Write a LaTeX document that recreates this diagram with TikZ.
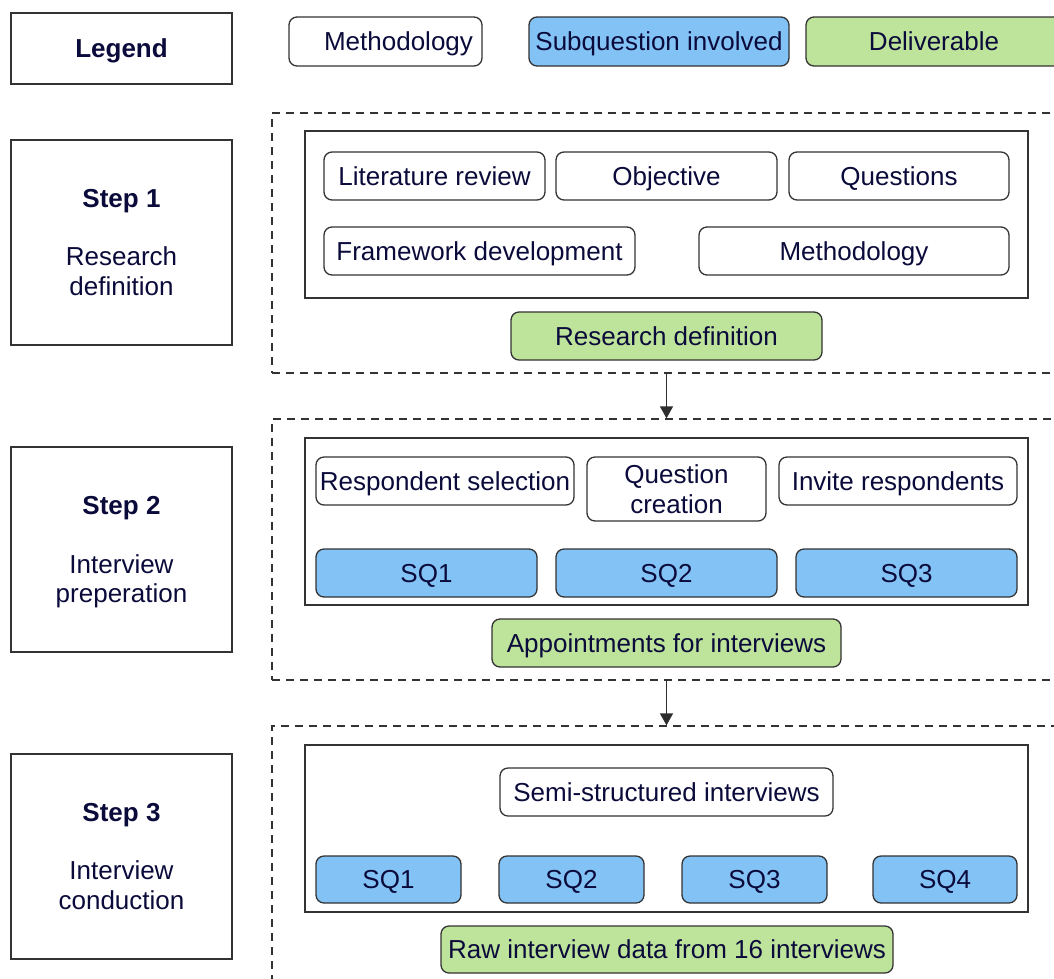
\documentclass[tikz,border=0pt]{standalone}
\usepackage{fontspec}
\setmainfont{Liberation Sans}
\usetikzlibrary{arrows.meta}

\definecolor{ink}{HTML}{0B0B3B}
\definecolor{edge}{HTML}{333333}
\definecolor{sqblue}{HTML}{83C2F5}
\definecolor{delgreen}{HTML}{BEE39A}

\tikzset{
  base/.style={draw=edge, line width=1.3pt, text=ink, inner sep=0pt, align=center,
    font=\fontsize{26}{29.5}\selectfont, text height=18.7pt, text depth=0pt},
  multiline/.style={text height={}, text depth={}},
  stepbox/.style={base, rectangle, fill=white},
  meth/.style={base, rounded corners=8pt, fill=white},
  sq/.style={meth, fill=sqblue},
  deliv/.style={meth, fill=delgreen},
  phase/.style={draw=edge, line width=1.3pt, dash pattern=on 8pt off 6pt, inner sep=0pt},
  frame/.style={draw=edge, line width=1.3pt, inner sep=0pt},
  flow/.style={draw=edge!90!black, line width=1.4pt, -{Triangle[length=12pt,width=13pt]}},
}

% \placebox{style}{name}{x1}{y1}{x2}{y2}{text}: node spanning the given corners
\newcommand{\placebox}[7]{%
  \node[#1, minimum width={#5-#3}, minimum height={#6-#4}] (#2)
    at ({(#3+#5)/2},{(#4+#6)/2}) {#7};}

\begin{document}
\begin{tikzpicture}[x=1pt, y=-1pt]
\useasboundingbox (0,0) rectangle (1054,978);
\clip (0,0) rectangle (1054,978);

% legend
\placebox{stepbox}{legend}{11}{13}{232}{84}{\textbf{Legend}}
\placebox{meth}{lgm}{289}{17}{482}{66}{\hspace*{26pt}Methodology}
\placebox{sq}{lgs}{529}{17}{789}{66}{Subquestion involved}
\placebox{deliv}{lgd}{806}{17}{1070}{66}{\hspace*{-8pt}Deliverable}

% step 1
\placebox{stepbox,multiline}{s1}{11}{140}{232}{345}{\textbf{Step 1}\\[29pt]Research\\definition}
\placebox{phase}{d1}{272}{113}{1070}{373}{}
\placebox{frame}{f1}{305}{131}{1028}{298}{}
\placebox{meth}{lit}{324}{152}{545}{200}{Literature review}
\placebox{meth}{obj}{556}{152}{777}{200}{Objective}
\placebox{meth}{que}{789}{152}{1009}{200}{Questions}
\placebox{meth}{fra}{324}{227}{635}{275}{Framework development}
\placebox{meth}{met}{699}{227}{1009}{275}{Methodology}
\placebox{deliv}{rd}{511}{312}{822}{360}{Research definition}

% step 2
\placebox{stepbox,multiline}{s2}{11}{447}{232}{652}{\textbf{Step 2}\\[29pt]Interview\\\smash{preperation}}
\placebox{phase}{d2}{272}{419}{1070}{680}{}
\placebox{frame}{f2}{305}{438}{1028}{605}{}
\placebox{meth}{res}{316}{457}{574}{505}{Respondent selection}
\placebox{meth,multiline}{qcr}{587}{457}{766}{521}{Question\\creation}
\placebox{meth}{inv}{779}{457}{1017}{505}{Invite respondents}
\placebox{sq}{a1}{316}{549}{537}{597}{SQ1}
\placebox{sq}{a2}{556}{549}{777}{597}{SQ2}
\placebox{sq}{a3}{796}{549}{1017}{597}{SQ3}
\placebox{deliv}{app}{492}{619}{841}{667}{Appointments for interviews}

% step 3
\placebox{stepbox,multiline}{s3}{11}{754}{232}{959}{\textbf{Step 3}\\[29pt]Interview\\conduction}
\placebox{phase}{d3}{272}{726}{1070}{995}{}
\placebox{frame}{f3}{305}{745}{1028}{912}{}
\placebox{meth}{semi}{500}{768}{833}{816}{Semi-structured interviews}
\placebox{sq}{b1}{316}{856}{461}{903}{SQ1}
\placebox{sq}{b2}{499}{856}{644}{903}{SQ2}
\placebox{sq}{b3}{682}{856}{827}{903}{SQ3}
\placebox{sq}{b4}{873}{856}{1017}{903}{SQ4}
\placebox{deliv}{raw}{441}{926}{893}{973}{Raw interview data from 16 interviews}

% flow between phases
\draw[flow] (d1.south -| rd) -- (d2.north -| rd);
\draw[flow] (d2.south -| rd) -- (d3.north -| rd);
\end{tikzpicture}
\end{document}
